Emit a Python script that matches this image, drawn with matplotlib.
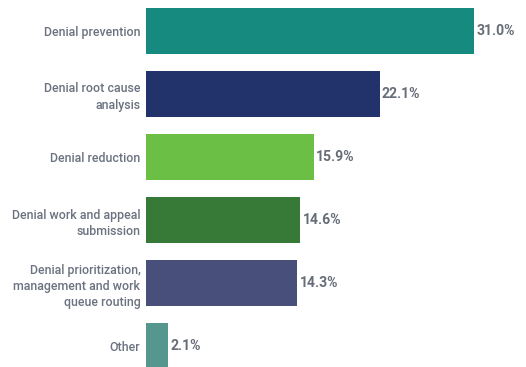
import matplotlib
matplotlib.use("Agg")
import matplotlib.pyplot as plt

categories = [
    "Denial prevention",
    "Denial root cause\nanalysis",
    "Denial reduction",
    "Denial work and appeal\nsubmission",
    "Denial prioritization,\nmanagement and work\nqueue routing",
    "Other",
]
values = [31.0, 22.1, 15.9, 14.6, 14.3, 2.1]
colors = ["#178a7f", "#22326a", "#6cbf45", "#377a37", "#474f7a", "#55978f"]

plt.rcParams['font.family'] = ['Roboto', 'DejaVu Sans']

fig = plt.figure(figsize=(5.26, 3.67), dpi=100)
W, H = 526, 367
ax = fig.add_axes([146 / W, 0, (W - 146) / W, 1])
ypos = list(range(len(values)))
ax.barh(ypos, values, height=0.73, color=colors)
ax.set_xlim(0, (W - 146) / 10.58)
ax.set_ylim(5.33, -0.49)
ax.set_yticks(ypos)
ax.set_yticklabels(categories, fontsize=8.9, color="#6b7280", linespacing=1.32,
                   fontweight="medium")
ax.tick_params(axis='y', length=0, pad=4)
ax.set_xticks([])
for s in ax.spines.values():
    s.set_visible(False)
for y, v in zip(ypos, values):
    ax.text(v + 0.2, y, f"{v:.1f}%", va="center", ha="left",
            fontsize=10.1, fontweight="bold", color="#676d78")

fig.savefig("out.png", dpi=100)
